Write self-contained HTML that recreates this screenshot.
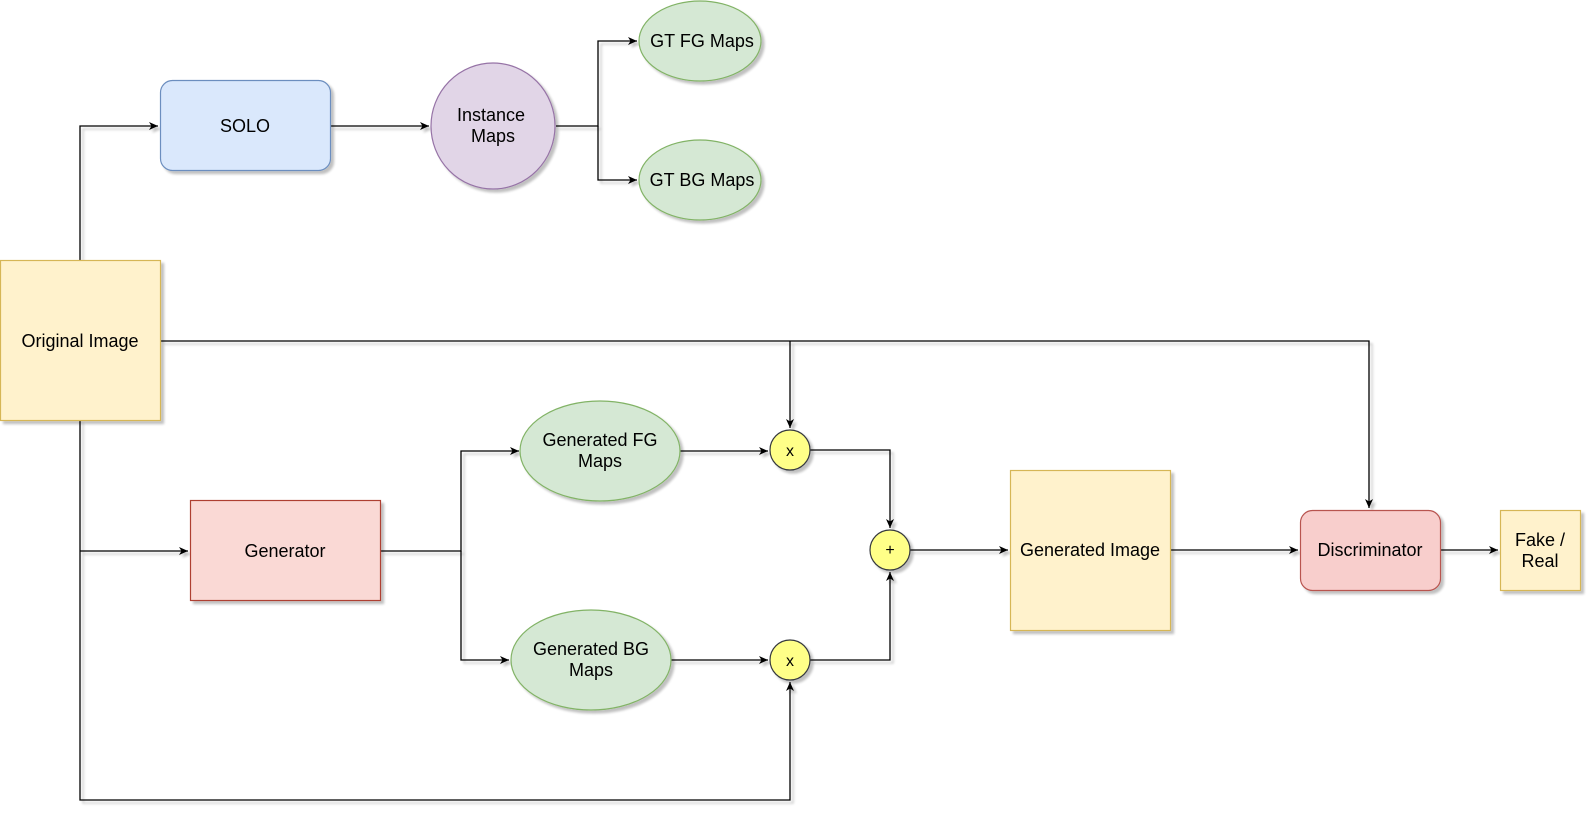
<!DOCTYPE html>
<html><head><meta charset="utf-8"><style>
html,body{margin:0;padding:0;background:#fff;}
svg{display:block;}
text{font-family:"Liberation Sans",Arial,sans-serif;font-size:18px;fill:#000;text-anchor:middle;}
</style></head><body>
<svg width="1596" height="825" viewBox="0 0 1596 825" xmlns="http://www.w3.org/2000/svg">
<defs>
<filter id="sh" x="-10%" y="-10%" width="130%" height="130%">
<feGaussianBlur in="SourceAlpha" stdDeviation="1.2"/>
<feOffset dx="3" dy="3" result="o"/>
<feComponentTransfer><feFuncA type="linear" slope="0.25"/></feComponentTransfer>
<feMerge><feMergeNode/><feMergeNode in="SourceGraphic"/></feMerge>
</filter>
<marker id="ar" markerWidth="10" markerHeight="10" refX="9" refY="5" orient="auto" markerUnits="userSpaceOnUse">
<path d="M0,1 L9,5 L0,9 L2.5,5 Z" fill="#000"/>
</marker>
</defs>

<g fill="none" stroke="#000" stroke-width="1.3" filter="url(#sh)">
<!-- Original -> SOLO -->
<polyline points="80,260 80,126 158,126" marker-end="url(#ar)"/>
<!-- SOLO -> Instance -->
<polyline points="331,126 429,126" marker-end="url(#ar)"/>
<!-- Instance -> GT -->
<polyline points="556,126 598,126 598,41 637,41" marker-end="url(#ar)"/>
<polyline points="598,126 598,180 637,180" marker-end="url(#ar)"/>
<!-- Original horizontal -->
<polyline points="161,341 1369,341 1369,508" marker-end="url(#ar)"/>
<polyline points="790,341 790,428" marker-end="url(#ar)"/>
<!-- Original -> Generator -->
<polyline points="80,420 80,800 790,800 790,682" marker-end="url(#ar)"/>
<polyline points="80,551 188,551" marker-end="url(#ar)"/>
<!-- Generator -> maps -->
<polyline points="381,551 461,551 461,451 519,451" marker-end="url(#ar)"/>
<polyline points="461,551 461,660 509,660" marker-end="url(#ar)"/>
<!-- maps -> x -->
<polyline points="680,451 768,451" marker-end="url(#ar)"/>
<polyline points="671,660 768,660" marker-end="url(#ar)"/>
<!-- x -> + -->
<polyline points="810,450 890,450 890,528" marker-end="url(#ar)"/>
<polyline points="810,660 890,660 890,572" marker-end="url(#ar)"/>
<!-- + -> Generated Image -->
<polyline points="910,550 1008,550" marker-end="url(#ar)"/>
<polyline points="1171,550 1298,550" marker-end="url(#ar)"/>
<polyline points="1441,550 1498,550" marker-end="url(#ar)"/>
</g>

<g filter="url(#sh)" stroke-width="1.2">
<rect x="0.5" y="260.5" width="160" height="160" fill="#fff2cc" stroke="#d6b656"/>
<rect x="160.5" y="80.5" width="170" height="90" rx="12" fill="#dae8fc" stroke="#6c8ebf"/>
<ellipse cx="493" cy="126" rx="62" ry="63" fill="#e1d5e7" stroke="#9673a6"/>
<ellipse cx="700" cy="41" rx="61" ry="40" fill="#d5e8d4" stroke="#82b366"/>
<ellipse cx="700" cy="180" rx="61" ry="40" fill="#d5e8d4" stroke="#82b366"/>
<rect x="190.5" y="500.5" width="190" height="100" fill="#fad9d5" stroke="#ae4132"/>
<ellipse cx="600" cy="451" rx="80" ry="50" fill="#d5e8d4" stroke="#82b366"/>
<ellipse cx="591" cy="660" rx="80" ry="50" fill="#d5e8d4" stroke="#82b366"/>
<circle cx="790" cy="450" r="20" fill="#ffff88" stroke="#36393d"/>
<circle cx="890" cy="550" r="20" fill="#ffff88" stroke="#36393d"/>
<circle cx="790" cy="660" r="20" fill="#ffff88" stroke="#36393d"/>
<rect x="1010.5" y="470.5" width="160" height="160" fill="#fff2cc" stroke="#d6b656"/>
<rect x="1300.5" y="510.5" width="140" height="80" rx="12" fill="#f8cecc" stroke="#b85450"/>
<rect x="1500.5" y="510.5" width="80" height="80" fill="#fff2cc" stroke="#d6b656"/>
</g>

<text x="80" y="347">Original Image</text>
<text x="245" y="132">SOLO</text>
<text x="491" y="121">Instance</text>
<text x="493" y="142">Maps</text>
<text x="702" y="47">GT FG Maps</text>
<text x="702" y="186">GT BG Maps</text>
<text x="285" y="557">Generator</text>
<text x="600" y="446">Generated FG</text>
<text x="600" y="467">Maps</text>
<text x="591" y="655">Generated BG</text>
<text x="591" y="676">Maps</text>
<text x="790" y="456" style="font-size:16px">x</text>
<text x="890" y="555" style="font-size:16px">+</text>
<text x="790" y="666" style="font-size:16px">x</text>
<text x="1090" y="556">Generated Image</text>
<text x="1370" y="556">Discriminator</text>
<text x="1540" y="546">Fake /</text>
<text x="1540" y="567">Real</text>
</svg>
</body></html>
